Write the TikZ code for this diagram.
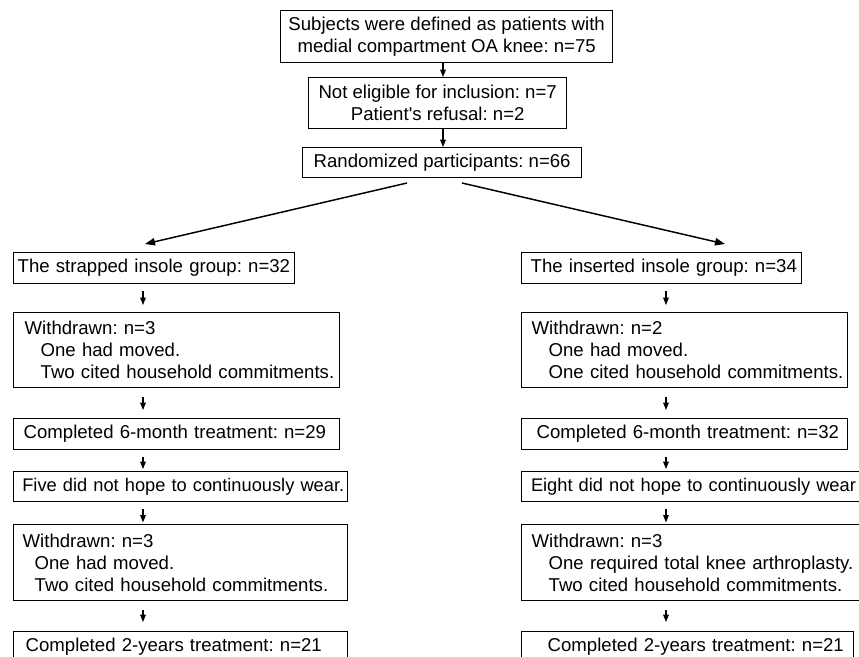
\documentclass[tikz,border=0pt]{standalone}
\usepackage{fontspec}
\setmainfont{Liberation Sans}
\usetikzlibrary{arrows.meta}
\hyphenpenalty=10000

\tikzset{
  cell/.style={draw, line width=1pt, anchor=north west, align=left, inner sep=0pt,
    font=\fontsize{13.95pt}{16.5pt}\selectfont\frenchspacing},
  tight/.style={font=\fontsize{13.7pt}{16.5pt}\selectfont\frenchspacing},
  pad/.style={execute at begin node={\leftskip=#1}},
  head/.style={cell, align=center},
  arr/.style={line width=0.8pt, -{Triangle[length=5.5pt,width=4.2pt]}},
  fork/.style={line width=1.1pt, -{Triangle[length=7.5pt,width=5.5pt]}},
}

\begin{document}
\begin{tikzpicture}[x=0.75pt,y=0.75pt,yscale=-1,xscale=1]
        \useasboundingbox (0,0) rectangle (859,656);
        \clip (0,0) rectangle (859,656);

        % top of the chart
        \draw (280,10) node [head, minimum width=249pt, minimum height=39pt] (subj) {Subjects were defined as patients with\\medial compartment OA knee: n=75};
        \draw (308,77) node [head, minimum width=193.5pt, minimum height=38.25pt] (excl) {Not eligible for inclusion: n=7\\Patient\textquotesingle s refusal: n=2};
        \draw (302,147) node [head, minimum width=209.25pt, minimum height=22.5pt] (rand) {Randomized participants: n=66};

        \coordinate (midcol) at (443,0);
        \coordinate (colL) at (143,0);
        \coordinate (colR) at (666,0);
        \coordinate (forkL) at (407,183);
        \coordinate (forkR) at (462,183);
        \coordinate (tipL) at (145,244);
        \coordinate (tipR) at (725,244);

        % strapped insole group
        \draw (13,252) node [cell, text width=210.75pt, pad=3pt, minimum height=23.25pt] (strap) {The strapped insole group: n=32};
        \draw (13,312) node [cell, text width=244.5pt, pad=8.25pt, minimum height=56.25pt] (strapOut) {Withdrawn: n=3\\\hspace*{12pt}One had moved.\\\hspace*{12pt}Two cited household commitments.};
        \draw (13,418) node [cell, text width=244.5pt, pad=7.5pt, minimum height=23.25pt] (strapSix) {Completed 6-month treatment: n=29};
        \draw (13,471) node [cell, tight, text width=250.5pt, pad=6.5pt, minimum height=22.5pt] (strapStop) {\mbox{Five did not hope to continuously wear.}};
        \draw (13,524) node [cell, text width=250.5pt, pad=6.75pt, minimum height=57pt] (strapOutB) {Withdrawn: n=3\\\hspace*{9pt}One had moved.\\\hspace*{9pt}Two cited household commitments.};
        \draw (13,631) node [cell, text width=250.5pt, pad=9pt, minimum height=23.25pt] (strapTwo) {Completed 2-years treatment: n=21};

        % inserted insole group
        \draw (521,252) node [cell, text width=210pt, pad=6.75pt, minimum height=23.25pt] (insrt) {The inserted insole group: n=34};
        \draw (521,312) node [cell, text width=244.5pt, pad=7.5pt, minimum height=56.25pt] (insrtOut) {Withdrawn: n=2\\\hspace*{12.75pt}One had moved.\\\hspace*{12.75pt}One cited household commitments.};
        \draw (521,418) node [cell, text width=244.5pt, pad=11.25pt, minimum height=23.25pt] (insrtSix) {Completed 6-month treatment: n=32};
        \draw (521,471) node [cell, tight, text width=258.75pt, pad=7pt, minimum height=22.5pt] (insrtStop) {\mbox{Eight did not hope to continuously wear}};
        \draw (521,524) node [cell, text width=258.75pt, pad=7.5pt, minimum height=57pt] (insrtOutB) {Withdrawn: n=3\\\hspace*{12.75pt}One required total knee arthroplasty.\\\hspace*{12.75pt}Two cited household commitments.};
        \draw (521,631) node [cell, text width=249pt, pad=19.5pt, minimum height=23.25pt] (insrtTwo) {Completed 2-years treatment: n=21};

        % arrows
        \draw [arr] (subj.south -| midcol) -- (excl.north -| midcol);
        \draw [arr] (excl.south -| midcol) -- (rand.north -| midcol);
        \draw [fork] (forkL) -- (tipL);
        \draw [fork] (forkR) -- (tipR);

        \draw [arr, shorten <=5.25pt, shorten >=5.25pt] (strap.south -| colL) -- (strapOut.north -| colL);
        \draw [arr, shorten <=6.4pt, shorten >=6pt] (strapOut.south -| colL) -- (strapSix.north -| colL);
        \draw [arr, shorten <=5.25pt, shorten >=1.5pt] (strapSix.south -| colL) -- (strapStop.north -| colL);
        \draw [arr, shorten <=5.25pt, shorten >=1.2pt] (strapStop.south -| colL) -- (strapOutB.north -| colL);
        \draw [arr, shorten <=6.75pt, shorten >=6.75pt] (strapOutB.south -| colL) -- (strapTwo.north -| colL);

        \draw [arr, shorten <=5.25pt, shorten >=5.25pt] (insrt.south -| colR) -- (insrtOut.north -| colR);
        \draw [arr, shorten <=6.4pt, shorten >=6pt] (insrtOut.south -| colR) -- (insrtSix.north -| colR);
        \draw [arr, shorten <=5.25pt, shorten >=1.5pt] (insrtSix.south -| colR) -- (insrtStop.north -| colR);
        \draw [arr, shorten <=5.25pt, shorten >=1.2pt] (insrtStop.south -| colR) -- (insrtOutB.north -| colR);
        \draw [arr, shorten <=6.75pt, shorten >=6.75pt] (insrtOutB.south -| colR) -- (insrtTwo.north -| colR);
\end{tikzpicture}
\end{document}
